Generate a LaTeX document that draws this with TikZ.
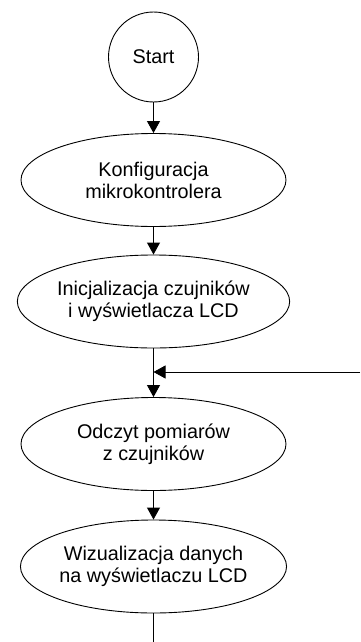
\documentclass[tikz,border=0pt]{standalone}
\usepackage{fontspec}
\setmainfont{Liberation Sans}
\usetikzlibrary{shapes.geometric,arrows.meta}
\begin{document}
\begin{tikzpicture}[x=1pt,y=1pt,
  every path/.style={line width=0.9pt},
  proc/.style={draw, ellipse, minimum width=265pt, minimum height=93pt, inner sep=0pt, align=center, font=\fontsize{19.8}{22}\selectfont},
  term/.style={draw, circle, minimum size=90pt, inner sep=0pt, font=\fontsize{19.8}{22}\selectfont},
  arr/.style={-{Triangle[length=12pt,width=13pt]}}]
\useasboundingbox (0,0) rectangle (360,-642);
\node[term] (start) at (153.5,-57) {Start};
\node[proc] (k) at (153.5,-180) {Konfiguracja\\mikrokontrolera};
\node[proc] (i) at (153.5,-301.5) {Inicjalizacja czujników\\i wyświetlacza LCD};
\node[proc] (o) at (153.5,-444) {Odczyt pomiarów\\z czujników};
\node[proc] (w) at (153.5,-566.5) {Wizualizacja danych\\na wyświetlaczu LCD};
\coordinate (j) at (153.5,-372);
\coordinate (loop) at (360,-372);
\coordinate (end) at (153.5,-642);
\draw[arr] (start) -- (k);
\draw[arr] (k) -- (i);
\draw (i.south) -- (j);
\draw[arr] (j) -- (o);
\draw[arr] (loop) -- (j);
\draw[arr] (o) -- (w);
\draw (w.south) -- (end);
\end{tikzpicture}
\end{document}
